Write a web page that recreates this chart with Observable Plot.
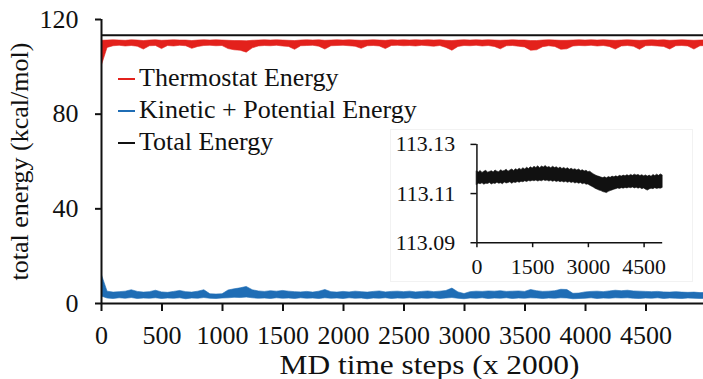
<!DOCTYPE html>
<html>
<head>
<meta charset="utf-8">
<script src="https://cdn.jsdelivr.net/npm/d3@7"></script>
<script src="https://cdn.jsdelivr.net/npm/@observablehq/plot@0.6"></script>
<style>
  body { margin: 0; background: white; }
  #wrap { position: relative; width: 703px; height: 379px; font-family: "Liberation Serif", serif; }
  #legend { position: absolute; left: 118px; top: 62px; font-size: 26px; color: #111; }
  #legend div { height: 32px; line-height: 32px; white-space: nowrap; }
  #legend span.sw { display: inline-block; width: 17px; height: 2.5px; vertical-align: middle; margin-right: 4px; position: relative; top: -1px; }
  #inset { position: absolute; left: 390px; top: 129px; width: 303px; height: 153px; background: white; border: 1px solid #f2f2f2; box-sizing: border-box; }
  #inset svg { position: absolute; left: -1px; top: -1px; }
</style>
</head>
<body>
<div id="wrap">
  <div id="main"></div>
  <div id="legend"></div>
  <div id="inset"></div>
</div>
<script>
// ---- data ----
const seriesNames = ["Thermostat Energy", "Kinetic + Potential Energy", "Total Energy"];
const seriesColors = ["#e3211c", "#1f6db5", "#111111"];
const xTicks = [0, 500, 1000, 1500, 2000, 2500, 3000, 3500, 4000, 4500];
const yTicks = [0, 40, 80, 120];
const insetXTicks = [0, 1500, 3000, 4500];
const insetYTicks = [113.09, 113.11, 113.13];

// time grid: every 50 MD steps (x 2000)
const steps = d3.range(0, 5001, 50);

const thermoHi = [111.0, 111.1, 111.2, 111.1, 111.0, 111.2, 111.1, 110.9, 111.1, 111.2,
 111.0, 111.1, 111.2, 111.1, 111.1, 110.9, 111.1, 111.2, 111.1, 111.2,
 111.1, 111.0, 110.9, 110.9, 110.8, 111.0, 111.1, 111.2, 111.1, 111.2,
 111.1, 111.0, 110.9, 111.1, 111.2, 111.1, 111.2, 111.0, 111.1, 111.2,
 111.1, 111.2, 111.1, 111.0, 111.1, 111.2, 111.1, 111.0, 111.2, 111.1,
 111.2, 111.1, 111.2, 111.1, 111.2, 111.1, 111.2, 111.0, 110.9, 111.1,
 111.2, 111.1, 111.2, 111.1, 111.2, 111.1, 111.0, 111.1, 111.2, 111.1,
 111.1, 110.9, 110.9, 111.1, 111.2, 111.1, 111.0, 111.0, 111.1, 111.2,
 111.1, 111.2, 111.1, 111.2, 111.1, 111.0, 111.1, 111.2, 111.1, 111.0,
 111.1, 111.2, 111.1, 111.2, 111.0, 111.1, 111.2, 111.1, 111.0, 111.1, 111.2];
const thermoLo = [100.0, 108.0, 108.7, 108.9, 108.6, 108.8, 108.5, 107.3, 108.7, 108.8,
 107.5, 108.8, 108.6, 108.9, 108.7, 107.6, 108.4, 108.8, 108.9, 108.7,
 108.8, 107.5, 107.0, 106.8, 106.0, 107.8, 108.6, 108.8, 108.7, 108.9,
 108.6, 108.4, 107.2, 108.7, 108.8, 108.9, 108.5, 107.3, 108.7, 108.8,
 108.9, 108.7, 108.5, 107.6, 108.7, 108.8, 108.6, 107.5, 108.8, 108.9,
 108.7, 108.8, 108.6, 108.9, 108.7, 108.5, 108.8, 108.0, 106.8, 108.4,
 108.8, 108.7, 108.9, 108.6, 108.8, 108.4, 107.4, 108.7, 108.8, 108.5,
 108.2, 106.8, 107.0, 108.3, 108.7, 108.4, 107.2, 107.4, 108.6, 108.8,
 108.7, 108.9, 108.6, 108.8, 108.4, 107.3, 108.6, 108.8, 108.5, 107.2,
 108.7, 108.8, 108.6, 108.4, 107.3, 108.7, 108.8, 108.6, 107.3, 108.7, 108.8];

const kinHi = [12.5, 5.0, 4.6, 4.8, 5.0, 5.6, 4.9, 4.6, 4.8, 5.4,
 4.7, 4.5, 4.9, 5.3, 4.8, 4.6, 5.0, 5.6, 3.9, 3.8,
 3.9, 5.5, 6.0, 6.4, 7.0, 5.6, 5.1, 4.9, 5.2, 5.0,
 5.3, 5.0, 4.8, 4.7, 4.9, 4.6, 5.0, 5.7, 4.8, 4.6,
 4.9, 4.7, 5.0, 4.8, 4.6, 4.9, 5.1, 4.7, 4.9, 5.0,
 4.8, 5.0, 4.7, 4.9, 5.1, 4.8, 5.0, 5.3, 6.3, 4.7,
 4.0, 4.8, 5.0, 4.9, 5.1, 5.0, 5.2, 4.9, 5.0, 5.1,
 4.9, 5.7, 5.2, 4.9, 5.0, 5.2, 5.8, 5.7, 4.1, 4.2,
 4.7, 4.9, 5.0, 4.8, 5.1, 5.4, 5.2, 5.4, 5.1, 5.0,
 4.9, 4.8, 4.9, 4.7, 4.6, 4.8, 4.6, 4.5, 4.6, 4.4, 4.5];
const kinLo = [3.0, 2.1, 1.9, 2.2, 2.0, 2.3, 1.9, 2.1, 2.0, 2.2,
 1.9, 2.1, 2.0, 2.2, 1.8, 2.1, 2.0, 2.3, 2.0, 1.9,
 2.1, 2.2, 2.4, 2.3, 2.5, 2.2, 2.0, 2.1, 1.9, 2.2,
 2.0, 2.1, 1.9, 2.2, 2.0, 2.1, 1.9, 2.2, 2.0, 2.1,
 1.9, 2.2, 2.0, 2.1, 1.8, 2.1, 2.0, 2.2, 1.9, 2.1,
 2.0, 2.2, 1.9, 2.1, 2.0, 2.2, 1.9, 2.1, 2.3, 2.0,
 1.8, 2.1, 2.0, 2.2, 1.9, 2.1, 2.0, 2.2, 1.9, 2.1,
 2.0, 2.2, 2.1, 1.9, 2.1, 2.0, 2.2, 2.1, 1.8, 1.9,
 2.0, 2.2, 1.9, 2.1, 2.0, 2.2, 2.1, 2.2, 2.0, 1.9,
 2.1, 2.0, 2.2, 1.9, 2.1, 2.0, 1.9, 2.1, 2.0, 1.9, 2.0];

const totalHi = [113.1190, 113.1186, 113.1192, 113.1184, 113.1189, 113.1193, 113.1185, 113.1188, 113.1191, 113.1186,
 113.1194, 113.1189, 113.1187, 113.1195, 113.1190, 113.1192, 113.1197, 113.1189, 113.1194, 113.1198,
 113.1192, 113.1199, 113.1195, 113.1201, 113.1196, 113.1203, 113.1198, 113.1205, 113.1200, 113.1207,
 113.1202, 113.1209, 113.1204, 113.1211, 113.1203, 113.1210, 113.1206, 113.1212, 113.1205, 113.1208,
 113.1203, 113.1209, 113.1204, 113.1207, 113.1201, 113.1206, 113.1200, 113.1204, 113.1199, 113.1203,
 113.1197, 113.1201, 113.1196, 113.1199, 113.1194, 113.1198, 113.1192, 113.1195, 113.1190, 113.1193,
 113.1187, 113.1189, 113.1183, 113.1178, 113.1174, 113.1170, 113.1168, 113.1165, 113.1163, 113.1166,
 113.1162, 113.1167, 113.1164, 113.1169, 113.1166, 113.1170, 113.1167, 113.1172, 113.1169, 113.1173,
 113.1170, 113.1175, 113.1171, 113.1176, 113.1172, 113.1177, 113.1173, 113.1176, 113.1171, 113.1175,
 113.1170, 113.1174, 113.1169, 113.1173, 113.1168, 113.1176, 113.1171, 113.1177, 113.1172, 113.1178, 113.1174];
const totalLo = [113.1135, 113.1140, 113.1138, 113.1142, 113.1136, 113.1140, 113.1139, 113.1143, 113.1137, 113.1141,
 113.1139, 113.1144, 113.1140, 113.1142, 113.1138, 113.1145, 113.1141, 113.1143, 113.1146, 113.1140,
 113.1145, 113.1143, 113.1147, 113.1144, 113.1148, 113.1146, 113.1150, 113.1147, 113.1151, 113.1149,
 113.1152, 113.1150, 113.1153, 113.1149, 113.1152, 113.1150, 113.1154, 113.1151, 113.1153, 113.1149,
 113.1152, 113.1148, 113.1151, 113.1147, 113.1150, 113.1146, 113.1149, 113.1145, 113.1148, 113.1144,
 113.1147, 113.1143, 113.1146, 113.1141, 113.1144, 113.1140, 113.1143, 113.1138, 113.1141, 113.1136,
 113.1137, 113.1132, 113.1128, 113.1124, 113.1119, 113.1116, 113.1112, 113.1110, 113.1106, 113.1104,
 113.1102, 113.1107, 113.1110, 113.1113, 113.1116, 113.1118, 113.1121, 113.1119, 113.1122, 113.1120,
 113.1123, 113.1121, 113.1124, 113.1122, 113.1125, 113.1121, 113.1124, 113.1120, 113.1123, 113.1118,
 113.1121, 113.1116, 113.1112, 113.1117, 113.1120, 113.1118, 113.1122, 113.1119, 113.1121, 113.1120, 113.1123];

// ---- tables ----
const thermo = steps.map((s, i) => ({step: s, lo: thermoLo[i], hi: thermoHi[i]}));
const kin = steps.map((s, i) => ({step: s, lo: kinLo[i], hi: kinHi[i]}));
const total = steps.map((s, i) => ({step: s, lo: totalLo[i], hi: totalHi[i]}));

const font = "Liberation Serif";

const main = Plot.plot({
  width: 703, height: 379,
  marginLeft: 101, marginRight: 0, marginTop: 19, marginBottom: 76,
  style: {fontFamily: font, fontSize: "26px", color: "#111", background: "white", overflow: "visible"},
  x: {domain: [0, 4975]},
  y: {domain: [0, 120]},
  marks: [
    Plot.areaY(thermo, {x: "step", y1: "lo", y2: "hi", fill: seriesColors[0], stroke: seriesColors[0], strokeWidth: 0.6, clip: true}),
    Plot.areaY(kin, {x: "step", y1: "lo", y2: "hi", fill: seriesColors[1], stroke: seriesColors[1], strokeWidth: 0.6, clip: true}),
    Plot.areaY(total, {x: "step", y1: "lo", y2: "hi", fill: seriesColors[2], stroke: seriesColors[2], strokeWidth: 2, clip: true}),
    Plot.ruleX([0], {y1: 0, y2: 120, stroke: "#111", strokeWidth: 2}),
    Plot.ruleY([0], {stroke: "#111", strokeWidth: 2}),
    Plot.axisX(xTicks, {tickSize: 8, tickPadding: 14, tickFormat: "d", label: null, stroke: "#111", strokeWidth: 2}),
    Plot.axisY(yTicks, {tickSize: 6, tickPadding: 17, tickFormat: "d", label: null, stroke: "#111", strokeWidth: 2}),
    Plot.text(["total energy (kcal/mol)"], {frameAnchor: "left", textAnchor: "middle", lineAnchor: "middle", rotate: -90, dx: -82, fontSize: 26, fill: "#111"}),
    Plot.text(["MD time steps (x 2000)"], {frameAnchor: "bottom", textAnchor: "middle", lineAnchor: "middle", dy: 62, dx: 27, fontSize: 28, fill: "#111"})
  ]
});
document.getElementById("main").appendChild(main);
// widen the x-axis title to the reference's horizontal extent
d3.select(main).selectAll("text").filter(function () { return this.textContent === "MD time steps (x 2000)"; })
  .attr("textLength", 300).attr("lengthAdjust", "spacingAndGlyphs");

// legend
const legend = document.getElementById("legend");
seriesNames.forEach((n, i) => {
  const row = document.createElement("div");
  const sw = document.createElement("span");
  sw.className = "sw";
  sw.style.background = seriesColors[i];
  row.appendChild(sw);
  row.appendChild(document.createTextNode(n));
  legend.appendChild(row);
});

// inset
const inset = Plot.plot({
  width: 303, height: 153,
  marginLeft: 87, marginRight: 29, marginTop: 15, marginBottom: 39,
  style: {fontFamily: font, fontSize: "22px", color: "#111", background: "transparent", overflow: "visible"},
  x: {domain: [0, 5000]},
  y: {domain: [113.09, 113.13]},
  marks: [
    Plot.areaY(total, {x: "step", y1: "lo", y2: "hi", fill: "#111", stroke: "#111", strokeWidth: 0.6}),
    Plot.ruleX([0], {y1: 113.09, y2: 113.13, stroke: "#111", strokeWidth: 1.5}),
    Plot.ruleY([113.09], {stroke: "#111", strokeWidth: 1.5}),
    Plot.axisX(insetXTicks, {tickSize: 5, tickPadding: 11, tickFormat: "d", label: null, stroke: "#111", strokeWidth: 1.5}),
    Plot.axisY(insetYTicks, {tickSize: 6, tickPadding: 16, tickFormat: d => d.toFixed(2), label: null, stroke: "#111", strokeWidth: 1.5})
  ]
});
document.getElementById("inset").appendChild(inset);
</script>
</body>
</html>
